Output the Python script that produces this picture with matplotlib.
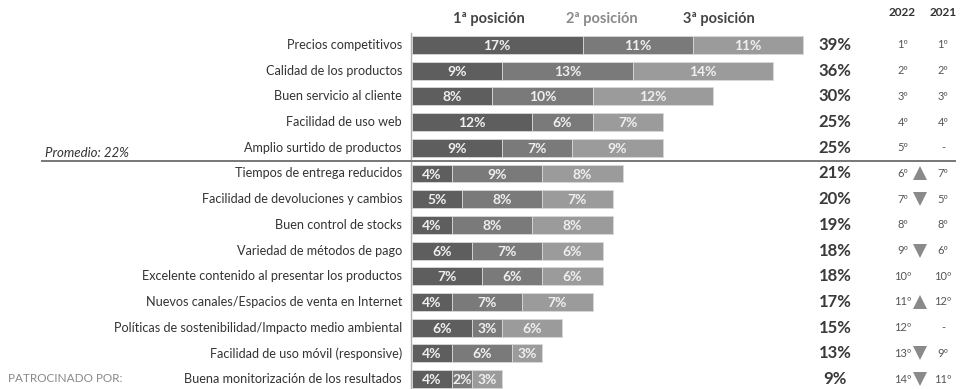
import matplotlib
matplotlib.use("Agg")
import matplotlib.pyplot as plt

plt.rcParams['font.family'] = ['Lato', 'DejaVu Sans']

categories = [
    "Precios competitivos",
    "Calidad de los productos",
    "Buen servicio al cliente",
    "Facilidad de uso web",
    "Amplio surtido de productos",
    "Tiempos de entrega reducidos",
    "Facilidad de devoluciones y cambios",
    "Buen control de stocks",
    "Variedad de métodos de pago",
    "Excelente contenido al presentar los productos",
    "Nuevos canales/Espacios de venta en Internet",
    "Políticas de sostenibilidad/Impacto medio ambiental",
    "Facilidad de uso móvil (responsive)",
    "Buena monitorización de los resultados",
]
first_pos = [17, 9, 8, 12, 9, 4, 5, 4, 6, 7, 4, 6, 4, 4]
second_pos = [11, 13, 10, 6, 7, 9, 8, 8, 7, 6, 7, 3, 6, 2]
third_pos = [11, 14, 12, 7, 9, 8, 7, 8, 6, 6, 7, 6, 3, 3]
totals = [39, 36, 30, 25, 25, 21, 20, 19, 18, 18, 17, 15, 13, 9]
rank_2022 = [1, 2, 3, 4, 5, 6, 7, 8, 9, 10, 11, 12, 13, 14]
rank_2021 = [1, 2, 3, 4, None, 7, 5, 8, 6, 10, 12, None, 9, 11]
series_names = ["1ª posición", "2ª posición", "3ª posición"]
average_label = "Promedio: 22%"

colors = ["#5e5e5e", "#7a7a7a", "#9b9b9b"]
legend_colors = ["#444444", "#8a8a8a", "#444444"]

W, H = 961, 389
fig = plt.figure(figsize=(W / 100, H / 100), dpi=100)
ax = fig.add_axes([0, 0, 1, 1])

# pixel geometry of the chart area mapped onto data units
x0_px, px_per_pct = 412, 10.03
y0_px, row_px = 45, 25.7
ax.set_xlim(-x0_px / px_per_pct, (W - x0_px) / px_per_pct)
ax.set_ylim((H - y0_px) / row_px, -y0_px / row_px)
ax.axis("off")


def px_x(p):
    return (p - x0_px) / px_per_pct


def px_y(p):
    return (p - y0_px) / row_px


rows = list(range(len(categories)))
lefts = [0] * len(rows)
for vals, col in zip([first_pos, second_pos, third_pos], colors):
    ax.barh(rows, vals, left=lefts, height=0.70, color=col,
            edgecolor="#d8d8d8", linewidth=0.6, zorder=2)
    for r, v, l in zip(rows, vals, lefts):
        ax.text(l + v / 2, r + 0.04, f"{v}%", ha="center", va="center",
                fontsize=10, fontweight="bold", color="#efefef", zorder=3)
    lefts = [l + v for l, v in zip(lefts, vals)]

# vertical baseline
ax.plot([px_x(411), px_x(411)], [px_y(33), px_y(H)], color="#b0b0b0",
        lw=1, zorder=1)

# category labels
for r, name in zip(rows, categories):
    ax.text(px_x(402), r, name, ha="right", va="center", fontsize=9.1,
            color="#333333")

# legend header
for name, cx, col in zip(series_names, [489, 602, 719], legend_colors):
    ax.text(px_x(cx), px_y(19), name, ha="center", va="center",
            fontsize=10.5, fontweight="bold", color=col)

# totals
for r, t in zip(rows, totals):
    ax.text(px_x(835), r, f"{t}%", ha="center", va="center", fontsize=12,
            fontweight="bold", color="#3a3a3a")

# ranking columns
ax.text(px_x(902), px_y(13), "2022", ha="center", va="center",
        fontsize=8.5, fontweight="bold", color="#333333")
ax.text(px_x(943), px_y(13), "2021", ha="center", va="center",
        fontsize=8.5, fontweight="bold", color="#333333")
for r, a, b in zip(rows, rank_2022, rank_2021):
    ax.text(px_x(903), r, f"{a}º", ha="center", va="center", fontsize=8,
            color="#555555")
    ax.text(px_x(943), r, "-" if b is None else f"{b}º", ha="center",
            va="center", fontsize=8, color="#555555")
    if b is not None and a != b:
        mk = "^" if a < b else "v"
        ax.plot(px_x(920), r, marker=mk, markersize=10, color="#8a8a8a",
                markeredgewidth=0, linestyle="none")

# average divider
ax.plot([px_x(42), px_x(955)], [4.5, 4.5], color="#777777", lw=1.4, zorder=4)
ax.text(px_x(45), px_y(153), average_label, ha="left", va="center",
        fontsize=9.5, style="italic", color="#333333")

ax.text(px_x(8), px_y(379), "PATROCINADO POR:", ha="left", va="center",
        fontsize=8.5, color="#888888")

fig.savefig("out.png", dpi=100)
